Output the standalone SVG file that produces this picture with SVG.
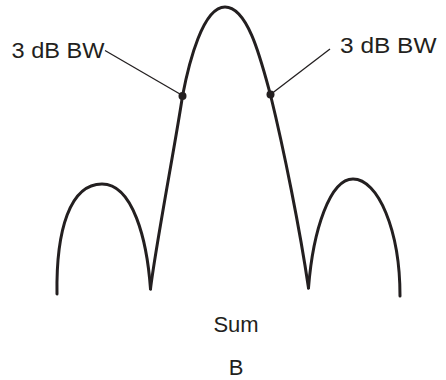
<svg xmlns="http://www.w3.org/2000/svg" width="446" height="380" viewBox="0 0 446 380">
<style>
.curve{fill:none;stroke:#231f20;stroke-width:3;stroke-linejoin:round;stroke-linecap:round}
.leader{fill:none;stroke:#231f20;stroke-width:1.3}
.dot{fill:#231f20}
.lbl{font-family:"Liberation Sans",Arial,sans-serif;font-size:22px;fill:#231f20}
</style>
<rect width="446" height="380" fill="#ffffff"/>
<g id="pattern">
<path class="curve" d="M57,294 C56,230 70,184 102,184 C133,184 147,240 150.5,289"/>
<path class="curve" d="M150.5,289 C155,250 176,140 182.5,96 C189,62 203,7 225,7 C248,7 261,60 270.5,95 C284,150 300,230 308.5,288"/>
<path class="curve" d="M308.5,288 C313,230 330,179 353,179 C378,179 400,230 400,296"/>
</g>
<g id="connectors">
<line class="leader" x1="105" y1="50.5" x2="182.5" y2="95.5"/>
<line class="leader" x1="330" y1="49" x2="270.5" y2="94.5"/>
</g>
<g id="bw-left">
<circle class="dot" cx="182.5" cy="96" r="4"/>
<text class="lbl" x="11.5" y="57.5" textLength="93" lengthAdjust="spacingAndGlyphs">3 dB BW</text>
</g>
<g id="bw-right">
<circle class="dot" cx="270.5" cy="94.5" r="4"/>
<text class="lbl" x="340" y="52.5" textLength="96.5" lengthAdjust="spacingAndGlyphs">3 dB BW</text>
</g>
<g id="caption">
<text class="lbl" x="236" y="332" text-anchor="middle">Sum</text>
<text class="lbl" x="236" y="375" text-anchor="middle">B</text>
</g>
</svg>
